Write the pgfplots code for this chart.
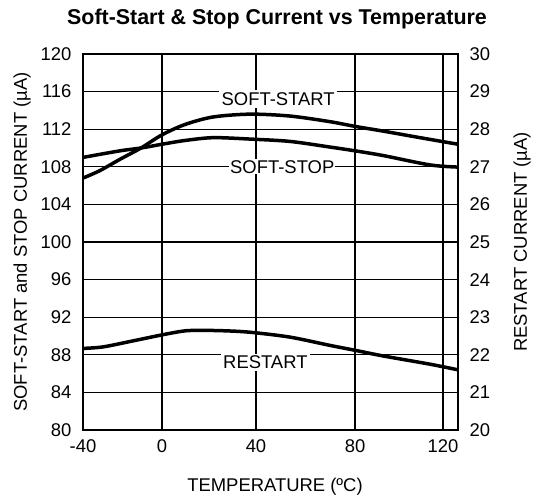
\documentclass[border=0pt]{standalone}
\usepackage{fontspec}
\setmainfont{Liberation Sans}
\usepackage{pgfplots}
\pgfplotsset{compat=1.18}

\newcommand{\tfont}{\fontsize{18.5}{20}\selectfont}

\begin{document}
\begin{tikzpicture}
\useasboundingbox (-83bp,-68bp) rectangle (459bp,430bp);
\begin{axis}[
  name=main, scale only axis, width=375bp, height=376bp,
  xmin=0, xmax=375, ymin=80, ymax=120,
  xtick={0,79,173,272,360}, xticklabels={-40,0,40,80,120},
  ytick={80,84,...,120},
  grid=major, major grid style={black, line width=1.2bp},
  axis line style={black, line width=2bp},
  major tick length=0pt,
  tick label style={font=\tfont},
  xticklabel style={yshift=-6bp},
  yticklabel style={xshift=-8bp},
  /pgf/number format/assume math mode=true,
]
\addplot[black, line width=3.5bp, smooth] coordinates {
(0,106.8) (17,107.6) (37,108.8) (58,110.0) (79,111.4) (102,112.5) (130,113.3)
(167,113.6) (207,113.4) (247,112.8) (272,112.3) (300,111.8) (337,111.1) (375,110.4)};
\addplot[black, line width=3.5bp, smooth] coordinates {
(0,109.0) (37,109.7) (58,110.0) (79,110.4) (102,110.8) (130,111.1) (167,110.95)
(207,110.7) (247,110.1) (272,109.7) (300,109.2) (347,108.2) (375,107.97)};
\node[fill=white, inner sep=2.5bp, anchor=west, font=\tfont] at (axis cs:136,115.2) {SOFT-START};
\node[fill=white, inner sep=1bp, anchor=west, font=\tfont] at (axis cs:146,108) {SOFT-STOP};
\node[fill=white, inner sep=2bp, anchor=west, font=\tfont] at (axis cs:138,87.2) {RESTART};
\end{axis}
\begin{axis}[
  scale only axis, width=375bp, height=376bp,
  xmin=0, xmax=375, ymin=20, ymax=30,
  axis y line*=right, axis x line=none,
  ytick={20,21,...,30},
  axis line style={black, line width=2bp},
  major tick length=0pt,
  tick label style={font=\tfont},
  yticklabel style={xshift=8bp},
  /pgf/number format/assume math mode=true,
]
\addplot[black, line width=3.5bp, smooth] coordinates {
(0,22.17) (20,22.21) (50,22.37) (79,22.53) (100,22.63) (114,22.65) (140,22.64)
(167,22.6) (207,22.47) (247,22.25) (272,22.12) (300,21.97) (347,21.75) (375,21.6)};
\end{axis}
\node[rotate=90, font=\tfont] at (-61bp,188bp) {SOFT-START and STOP CURRENT (µA)};
\node[rotate=90, font=\tfont] at (439bp,188bp) {RESTART CURRENT (µA)};
\node[font=\tfont] at (192bp,-57bp) {TEMPERATURE (ºC)};
\node[font=\fontsize{21.5}{24}\selectfont\bfseries] at (194bp,411bp) {Soft-Start \& Stop Current vs Temperature};
\end{tikzpicture}
\end{document}
